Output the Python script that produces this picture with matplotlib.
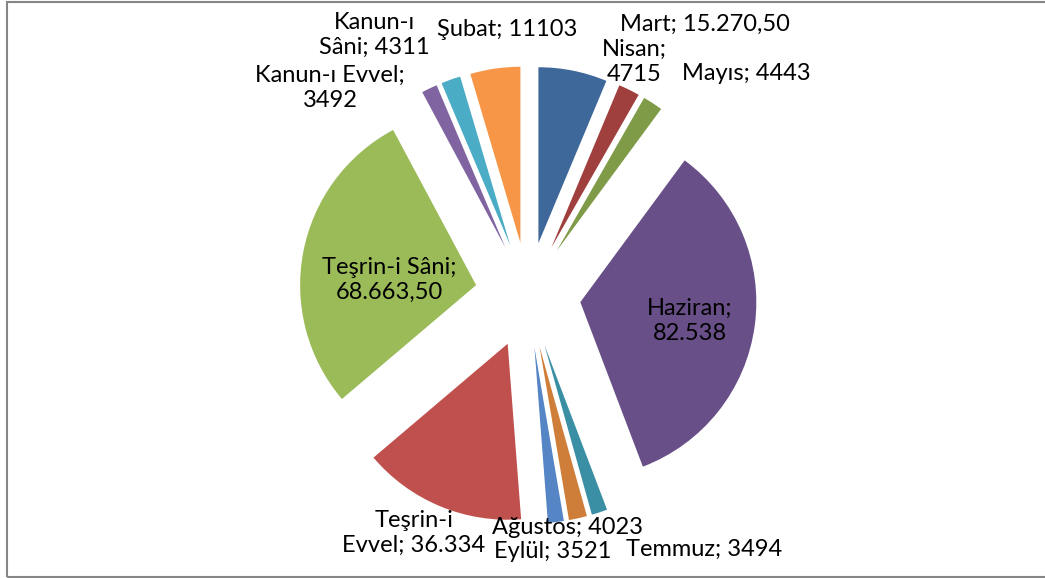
import matplotlib
matplotlib.use("Agg")
import matplotlib.pyplot as plt
from matplotlib.patches import Rectangle

# months, clockwise from 12 o'clock
months = ["Mart", "Nisan", "Mayıs", "Haziran", "Temmuz", "Ağustos", "Eylül",
          "Teşrin-i Evvel", "Teşrin-i Sâni", "Kanun-ı Evvel", "Kanun-ı Sâni", "Şubat"]
values = [15270.5, 4715, 4443, 82538, 3494, 4023, 3521,
          36334, 68663.5, 3492, 4311, 11103]
value_text = ["15.270,50", "4715", "4443", "82.538", "3494", "4023", "3521",
              "36.334", "68.663,50", "3492", "4311", "11103"]

colors = ["#3e689a", "#a0403e", "#7f9b47", "#684f88", "#3a8fa4", "#cf7e39",
          "#5585c5", "#c0504d", "#9bbb59", "#8064a2", "#4bacc6", "#f79646"]

# label text layout (Excel best-fit), line breaks and pixel centres
label_lines = [
    "Mart; {}", "Nisan;\n{}", "Mayıs; {}", "Haziran;\n{}", "Temmuz; {}",
    "Ağustos; {}", "Eylül; {}", "Teşrin-i\nEvvel; {}", "Teşrin-i Sâni;\n{}",
    "Kanun-ı Evvel;\n{}", "Kanun-ı\nSâni; {}", "Şubat; {}",
]
label_px = [(705, 24), (634, 62), (746, 73), (690, 321), (704, 549),
            (568, 528), (553, 552), (414, 533), (389, 280),
            (330, 88), (374, 35), (507, 30)]

W, H = 1045, 578
cx, cy, R = 528, 295, 176

fig = plt.figure(figsize=(W / 100, H / 100), dpi=100)
ax = fig.add_axes([0, 0, 1, 1])

ax.pie(values, explode=[0.3] * len(values), colors=colors, startangle=90,
       counterclock=False, radius=1, center=(0, 0),
       wedgeprops=dict(linewidth=0))

ax.set_xlim(-cx / R, (W - cx) / R)
ax.set_ylim(-(H - cy) / R, cy / R)
ax.set_aspect("auto")
ax.axis("off")

for fmt, txt, (px, py) in zip(label_lines, value_text, label_px):
    ax.text((px - cx) / R, (cy - py) / R, fmt.format(txt),
            ha="center", va="center", fontsize=17, family="Lato",
            color="black", linespacing=1.2)

# chart frame
fig.patches.append(Rectangle((7 / W, 1 / H), (W + 5) / W, (H - 3) / H,
                             transform=fig.transFigure, fill=False,
                             edgecolor="#868686", linewidth=1.5))

fig.savefig("out.png", dpi=100)
